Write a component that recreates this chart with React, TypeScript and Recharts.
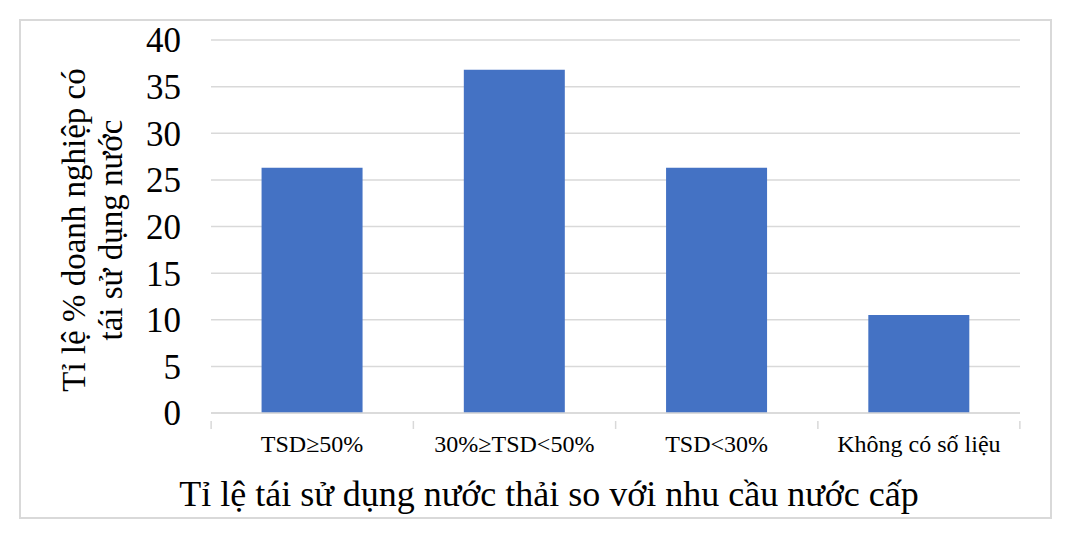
import { BarChart, Bar, XAxis, YAxis, CartesianGrid } from 'recharts';

const categories = ['TSD≥50%', '30%≥TSD<50%', 'TSD<30%', 'Không có số liệu'];
const shares = [26.3, 36.8, 26.3, 10.5];
const yTicks = [0, 5, 10, 15, 20, 25, 30, 35, 40];

const data = categories.map((name, i) => ({ name, value: shares[i] }));

const FONT = '"Liberation Serif", "Times New Roman", serif';
const GRID = '#d9d9d9';
const BAND = 202;

function CategoryTick(props: any) {
  const { x, y, payload, index } = props;
  const last = index === categories.length - 1;
  return (
    <g>
      <line x1={x - BAND / 2} y1={y} x2={x - BAND / 2} y2={y + 8} stroke={GRID} strokeWidth={1.5} />
      {last && <line x1={x + BAND / 2} y1={y} x2={x + BAND / 2} y2={y + 8} stroke={GRID} strokeWidth={1.5} />}
      <text x={x} y={y + 31} textAnchor="middle" fontFamily={FONT} fontSize={24} fill="#000">
        {payload.value}
      </text>
    </g>
  );
}

export default function App() {
  return (
    <div style={{ position: 'absolute', left: 0, top: 0, width: 1070, height: 538, background: '#fff', fontFamily: FONT }}>
      {/* outer frame */}
      <div style={{ position: 'absolute', left: 19, top: 19, width: 1029, height: 496, border: `2px solid ${GRID}` }} />

      <BarChart
        width={1070}
        height={538}
        data={data}
        margin={{ top: 40, right: 50, bottom: 95, left: 151 }}
        barCategoryGap="25%"
        style={{ position: 'absolute', left: 0, top: 0 }}
      >
        <CartesianGrid vertical={false} stroke={GRID} strokeWidth={1.5} />
        <XAxis
          dataKey="name"
          height={30}
          axisLine={{ stroke: GRID, strokeWidth: 1.5 }}
          tickLine={false}
          interval={0}
          tick={<CategoryTick />}
        />
        <YAxis
          width={60}
          domain={[0, 40]}
          ticks={yTicks}
          axisLine={false}
          tickLine={false}
          tickSize={0}
          tickMargin={30}
          tick={{ fill: '#000', fontSize: 35, fontFamily: FONT }}
        />
        <Bar dataKey="value" fill="#4472c4" isAnimationActive={false} />
      </BarChart>

      {/* y axis title */}
      <div
        style={{
          position: 'absolute',
          left: 93,
          top: 230,
          transform: 'translate(-50%, -50%) rotate(-90deg)',
          whiteSpace: 'nowrap',
          fontSize: 33,
          lineHeight: '37px',
          textAlign: 'center',
          color: '#000',
        }}
      >
        Tỉ lệ % doanh nghiệp có
        <br />
        tái sử dụng nước
      </div>

      {/* x axis title */}
      <div
        style={{
          position: 'absolute',
          left: 549,
          top: 494,
          transform: 'translate(-50%, -50%)',
          whiteSpace: 'nowrap',
          fontSize: 36,
          color: '#000',
        }}
      >
        Tỉ lệ tái sử dụng nước thải so với nhu cầu nước cấp
      </div>
    </div>
  );
}
